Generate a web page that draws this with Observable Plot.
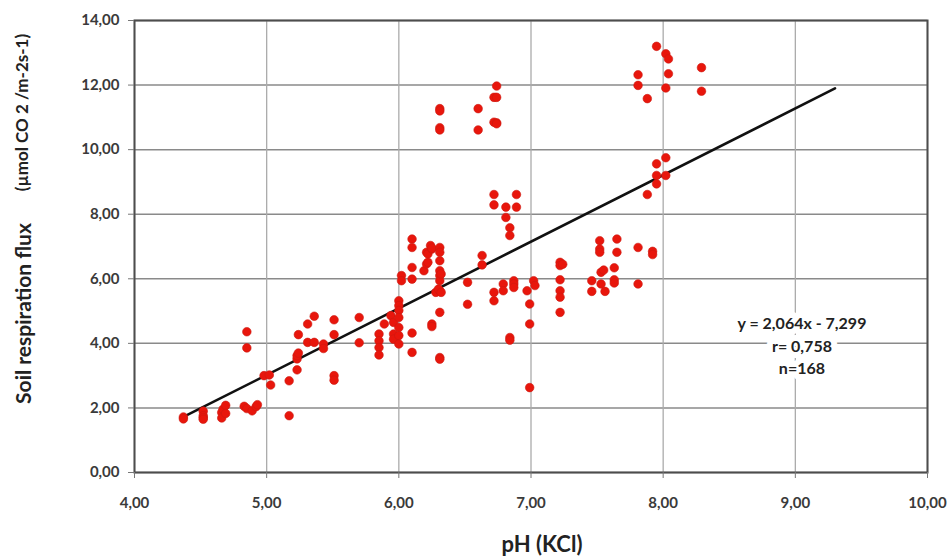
<!DOCTYPE html>
<html>
<head>
<meta charset="utf-8">
<script src="https://cdn.jsdelivr.net/npm/d3@7"></script>
<script src="https://cdn.jsdelivr.net/npm/@observablehq/plot@0.6"></script>
<style>
  html, body { margin: 0; padding: 0; background: #fff; }
</style>
</head>
<body>
<div id="chart"></div>
<script>
// pH (KCl) values
const pH = [
  4.37,4.37,4.52,4.52,4.52,4.52,
  4.66,4.66,4.67,4.69,4.69,
  4.83,4.85,4.85,4.85,4.89,4.92,4.93,
  4.98,5.02,5.03,5.17,5.17,
  5.23,5.23,5.23,5.24,5.24,
  5.31,5.31,5.36,5.36,5.43,5.43,
  5.51,5.51,5.51,5.51,5.70,5.70,
  5.85,5.85,5.85,5.85,5.89,5.94,5.96,5.96,5.96,
  6.00,6.00,6.00,6.00,6.00,6.00,6.00,6.02,6.02,
  6.10,6.10,6.10,6.10,6.10,6.10,
  6.19,6.21,6.21,6.22,6.22,6.24,6.25,6.25,6.25,6.25,6.28,
  6.31,6.31,6.31,6.31,6.31,6.31,6.31,6.31,
  6.31,6.31,6.30,6.32,6.32,
  6.31,6.31,6.31,6.31,
  6.52,6.52,6.60,6.60,6.63,6.63,
  6.72,6.72,6.72,6.72,6.72,6.72,
  6.74,6.74,6.74,6.74,
  6.79,6.79,6.81,6.81,
  6.84,6.84,6.84,6.84,6.87,6.87,6.87,6.89,6.89,
  6.97,6.99,6.99,6.99,7.02,7.03,
  7.22,7.22,7.22,7.22,7.22,7.22,7.24,
  7.46,7.46,7.52,7.52,7.52,7.53,7.53,7.55,7.56,
  7.63,7.63,7.63,7.65,7.65,
  7.81,7.81,7.81,7.81,7.88,7.88,7.92,7.92,
  7.95,7.95,7.95,7.95,8.02,8.02,8.02,8.02,8.04,8.04,8.29,8.29
];
// Soil respiration flux values (µmol CO2 m-2 s-1)
const flux = [
  1.72,1.66,1.90,1.76,1.70,1.65,
  1.86,1.69,1.96,2.08,1.83,
  2.05,1.98,4.36,3.86,1.91,2.04,2.10,
  3.00,3.02,2.71,2.84,1.76,
  3.18,3.52,3.62,3.70,4.27,
  4.60,4.03,4.84,4.03,3.98,3.84,
  4.73,4.27,3.00,2.86,4.80,4.02,
  4.29,4.08,3.87,3.64,4.60,4.86,4.65,4.29,4.13,
  5.32,5.17,5.02,4.80,4.49,4.24,3.98,6.10,5.94,
  7.23,6.97,6.35,5.99,4.32,3.72,
  6.25,6.46,6.82,6.51,6.77,7.03,6.92,6.95,4.60,4.52,5.58,
  6.97,6.82,6.56,6.25,6.10,5.94,5.63,4.96,
  3.56,3.51,5.68,6.15,5.58,
  11.27,11.20,10.68,10.61,
  5.89,5.21,11.27,10.61,6.72,6.43,
  11.62,10.85,8.61,8.29,5.58,5.32,
  11.97,11.62,10.83,10.80,
  5.84,5.63,8.22,7.90,
  7.58,7.34,4.18,4.10,5.94,5.84,5.73,8.61,8.22,
  5.63,5.22,4.60,2.63,5.94,5.79,
  6.51,6.41,5.97,5.63,5.43,4.96,6.45,
  5.94,5.61,7.18,6.92,6.82,6.20,5.84,6.27,5.61,
  6.34,5.97,5.87,7.23,6.82,
  12.32,11.99,6.97,5.84,11.58,8.61,6.85,6.75,
  13.20,9.56,9.20,8.94,12.97,11.91,9.75,9.20,12.81,12.35,12.54,11.81
];
// regression shown on the chart
const slope = 2.064;
const intercept = -7.299;
const fitRange = [4.37, 9.30];
const statsLines = ["y = 2,064x - 7,299", "r= 0,758", "n=168"];
const statsAnchor = [{x: 9.05, y: 3.96}];

const xTicks = [4, 5, 6, 7, 8, 9, 10];
const yTicks = [0, 2, 4, 6, 8, 10, 12, 14];
const xTitle = "pH (KCl)";
const yTitle = "Soil respiration flux";
const yUnit = "(µmol CO 2 /m-2s-1)";

const fmt = d => d.toFixed(2).replace(".", ",");
const points = pH.map((x, i) => ({x, y: flux[i]}));
const fit = fitRange.map(x => ({x, y: slope * x + intercept}));

const chart = Plot.plot({
  width: 952,
  height: 560,
  marginLeft: 134,
  marginRight: 25,
  marginTop: 20,
  marginBottom: 88,
  style: {fontFamily: "Lato, 'Open Sans', sans-serif", fontWeight: "bold", fontSize: "15px", color: "#333", background: "#fff"},
  x: {domain: [4, 10]},
  y: {domain: [0, 14]},
  marks: [
    Plot.gridY(yTicks, {stroke: "#8a8a8a", strokeOpacity: 1, strokeWidth: 1.5}),
    Plot.gridX(xTicks, {stroke: "#ababab", strokeOpacity: 1, strokeWidth: 1.3}),
    Plot.frame({stroke: "#4d4d4d", strokeWidth: 2}),
    Plot.axisY(yTicks, {tickFormat: fmt, tickSize: 6, tickPadding: 9, label: null, stroke: "#777", fill: "#3a3a3a", fontSize: 15}),
    Plot.axisX(xTicks, {tickFormat: fmt, tickSize: 6, tickPadding: 19, label: null, stroke: "#777", fill: "#3a3a3a", fontSize: 15}),
    Plot.line(fit, {x: "x", y: "y", stroke: "#111", strokeWidth: 2.6}),
    Plot.dot(points, {x: "x", y: "y", r: 4.3, fill: "#e8160c", stroke: "#cc1a10", strokeWidth: 0.6}),
    Plot.text(statsAnchor, {x: "x", y: "y", text: () => statsLines.join("\n"), lineHeight: 1.4, fontSize: 16, fill: "#222", stroke: "white", strokeWidth: 12, textAnchor: "middle"}),
    Plot.text([xTitle], {frameAnchor: "bottom", dx: 11, dy: 72, lineAnchor: "middle", textAnchor: "middle", fontSize: 22, fill: "#222"}),
    Plot.text([yTitle], {frameAnchor: "left", rotate: -90, dx: -110, dy: 67, textAnchor: "middle", lineAnchor: "middle", fontSize: 21, fill: "#222"}),
    Plot.text([yUnit], {frameAnchor: "left", rotate: -90, dx: -112, dy: -134, textAnchor: "middle", lineAnchor: "middle", fontSize: 17, fill: "#222"})
  ]
});
document.getElementById("chart").appendChild(chart);
</script>
</body>
</html>
